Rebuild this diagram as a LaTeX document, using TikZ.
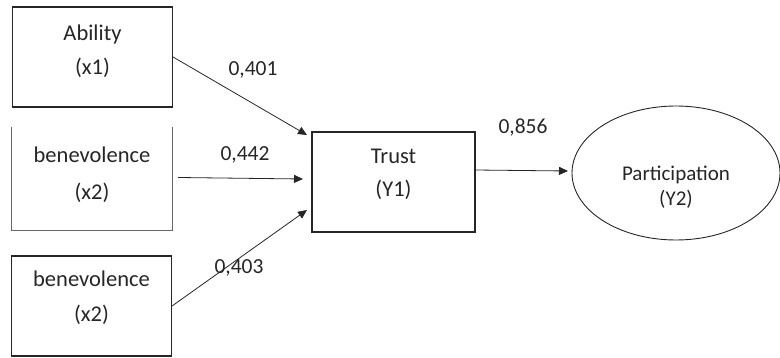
\documentclass[tikz,border=0pt]{standalone}
\usepackage{fontspec}
\setmainfont{Carlito}
\usetikzlibrary{arrows.meta,calc,shapes.geometric}
\begin{document}
\begin{tikzpicture}[x=1pt,y=-1pt,
  every node/.style={text=black!85},
  varbox/.style={draw=black!85, line width=1.1pt, minimum width=160pt, minimum height=100pt, inner sep=0pt},
  openbox/.style={minimum width=160pt, minimum height=103pt, inner sep=0pt},
  latent/.style={draw=black!85, line width=0.9pt, ellipse, minimum width=208pt, minimum height=134pt, inner sep=0pt},
  boxtext/.style={align=center, inner sep=0pt, font=\fontsize{22.5}{#1}\selectfont},
  boxtext/.default=34,
  path/.style={draw=black!85, line width=0.8pt, -{Triangle[length=9pt,width=8pt]}},
  coef/.style={font=\fontsize{21.5}{24}\selectfont}]
\useasboundingbox (0,0) rectangle (780,358);
% exogenous variables
\node[varbox] (ab) at (92.5,57) {};
\node[boxtext=34] (abt) at ($(ab.center)+(0,-6)$) {Ability\\(x1)};
\node[openbox] (be1) at (92,178.5) {};
\draw[black!60, line width=1pt] (be1.north west) -- (be1.south west) -- (be1.south east) -- (be1.north east);
\node[boxtext=37] (be1t) at ($(be1.center)+(0,-4)$) {benevolence\\(x2)};
\node[varbox] (be2) at (91.5,306) {};
\node[boxtext=35] (be2t) at ($(be2.center)+(0,-8)$) {benevolence\\(x2)};
% mediator and outcome
\node[varbox, minimum width=163pt] (tr) at (393.5,182) {};
\node[boxtext=33] (trt) at ($(tr.center)+(0,-8)$) {Trust\\(Y1)};
\node[latent] (pa) at (676,173) {};
\node[align=center, inner sep=0pt, font=\fontsize{21}{25}\selectfont] (pat) at ($(pa.center)+(0,14)$) {Participation\\(Y2)};
% arrow heads stop just short of their targets
\coordinate (t1) at (307,135);
\coordinate (t2) at (303,179);
\coordinate (t3) at (307,210);
\coordinate (s2) at ($(be1.east)+(6,-1)$);
\coordinate (s4) at (475,170);
\coordinate (t4) at (568,171);
\draw[path] (ab.east) -- (t1);
\draw[path] (s2) -- (t2);
\draw[path] (be2.east) -- (t3);
\draw[path] (s4) -- (t4);
% path coefficients
\node[coef] (c1) at (253,70) {0,401};
\node[coef] (c2) at (245,155) {0,442};
\node[coef] (c3) at (239,268) {0,403};
\node[coef] (c4) at (523,128) {0,856};
\end{tikzpicture}
\end{document}
